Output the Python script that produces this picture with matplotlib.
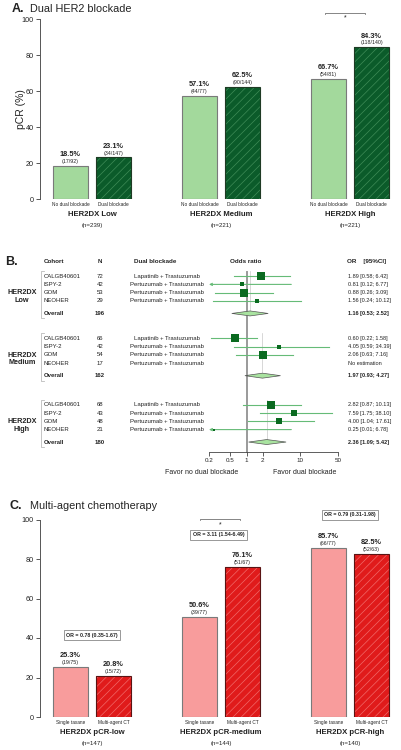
import numpy as np
import matplotlib
matplotlib.use("Agg")
import matplotlib.pyplot as plt
from matplotlib import transforms
from matplotlib.patches import Polygon
from matplotlib.ticker import NullLocator

plt.rcParams['font.family'] = ['Liberation Sans', 'DejaVu Sans']
plt.rcParams['hatch.linewidth'] = 0.5

# ---- panel A: dual HER2 blockade
a_groups = ['HER2DX Low', 'HER2DX Medium', 'HER2DX High']
a_n = [239, 221, 221]
a_arms = ['No dual blockade', 'Dual blockade']
a_pcr_no = [18.5, 57.1, 66.7]
a_pcr_dual = [23.1, 62.5, 84.3]
a_frac_no = ['17/92', '44/77', '54/81']
a_frac_dual = ['34/147', '90/144', '118/140']

# ---- panel B: forest plot
b_groups = ['Low', 'Medium', 'High']
b_cohorts = ['CALGB40601', 'ISPY-2', 'GOM', 'NEOHER']
b_treat = ['Lapatinib + Trastuzumab', 'Pertuzumab + Trastuzumab',
           'Pertuzumab + Trastuzumab', 'Pertuzumab + Trastuzumab']
b_n = [[72, 42, 53, 29], [66, 42, 54, 17], [68, 43, 48, 21]]
b_or = [[1.89, 0.81, 0.88, 1.56], [0.60, 4.05, 2.06, None], [2.82, 7.59, 4.00, 0.25]]
b_lo = [[0.58, 0.12, 0.26, 0.24], [0.22, 0.59, 0.63, None], [0.87, 1.75, 1.04, 0.01]]
b_hi = [[6.42, 6.77, 3.09, 10.12], [1.58, 34.39, 7.16, None], [10.13, 38.10, 17.61, 6.78]]
b_tot_n = [196, 162, 180]
b_tot_or = [1.16, 1.97, 2.36]
b_tot_lo = [0.53, 0.93, 1.09]
b_tot_hi = [2.52, 4.27, 5.42]
b_ticks = [0.2, 0.5, 1, 2, 10, 50]

# ---- panel C: multi-agent chemotherapy
c_groups = ['HER2DX pCR-low', 'HER2DX pCR-medium', 'HER2DX pCR-high']
c_n = [147, 144, 140]
c_arms = ['Single taxane', 'Multi-agent CT']
c_pcr_single = [25.3, 50.6, 85.7]
c_pcr_multi = [20.8, 76.1, 82.5]
c_frac_single = ['19/75', '39/77', '66/77']
c_frac_multi = ['15/72', '51/67', '52/63']
c_or_text = ['OR = 0.78 (0.35-1.67)', 'OR = 3.11 (1.54-6.49)', 'OR = 0.79 (0.31-1.98)']

W, H = 401, 750
TXT = '#222222'
fig = plt.figure(figsize=(W / 100, H / 100), dpi=100)


def fx(px):
    return px / W


def fy(py):
    return 1 - py / H


def bar_panel(ax, v1, v2, f1, f2, arms, groups, ns, c1, c2, hc, ec2, ppu):
    x = np.arange(len(groups))
    off, w = 0.167, 0.271
    ax.bar(x - off, v1, w, color=c1, edgecolor='#7a7a7a', lw=0.8, zorder=2)
    ax.bar(x + off, v2, w, color=c2, edgecolor=hc, lw=0.01, hatch='////', zorder=2)
    ax.bar(x + off, v2, w, fill=False, edgecolor=ec2, lw=0.8, zorder=3)
    for xs, vals, fr in [(x - off, v1, f1), (x + off, v2, f2)]:
        for xi, v, f in zip(xs, vals, fr):
            ax.annotate(f'{v:.1f}%', (xi, v), xytext=(0, 7), textcoords='offset points',
                        ha='center', va='baseline', fontsize=5.3, fontweight='bold', color=TXT)
            ax.annotate(f'({f})', (xi, v), xytext=(0, 1.3), textcoords='offset points',
                        ha='center', va='bottom', fontsize=3.8, color=TXT)
    ax.set_xlim(-0.403, 2.388)
    ax.set_ylim(0, 100)
    for s in ['top', 'right', 'bottom']:
        ax.spines[s].set_visible(False)
    ax.spines['left'].set_color('#555555')
    ax.spines['left'].set_linewidth(0.7)
    ax.set_yticks(range(0, 101, 20))
    ax.tick_params(axis='y', labelsize=5.2, length=3, width=0.7, pad=1.5,
                   colors='#555555', labelcolor=TXT)
    ax.set_xticks(np.concatenate([x - off, x + off]))
    ax.set_xticklabels([arms[0]] * len(x) + [arms[1]] * len(x))
    ax.tick_params(axis='x', length=0, labelsize=3.4, pad=2.5, labelcolor=TXT)
    for xi, g, n in zip(x, groups, ns):
        ax.text(xi, -16 / ppu, g, ha='center', va='center', fontsize=5.6,
                fontweight='bold', color=TXT, clip_on=False)
        ax.text(xi, -27 / ppu, f'(n={n})', ha='center', va='center', fontsize=4.4,
                color=TXT, clip_on=False)
    ax.patch.set_visible(False)


def bracket(ax, x0, x1, y):
    ax.plot([x0, x0, x1, x1], [y - 0.8, y, y, y - 0.8], color='#555555', lw=0.5, clip_on=False)
    ax.text((x0 + x1) / 2, y - 2.8, '*', ha='center', va='center', fontsize=5,
            color=TXT, clip_on=False)


# ================= A =================
fig.text(fx(12), fy(8.5), 'A.', fontsize=9, fontweight='bold', va='center', color=TXT)
fig.text(fx(30), fy(8.5), 'Dual HER2 blockade', fontsize=7.8, va='center', color=TXT)
axA = fig.add_axes([fx(40), fy(199), 360 / W, 180 / H])
bar_panel(axA, a_pcr_no, a_pcr_dual, a_frac_no, a_frac_dual, a_arms, a_groups, a_n,
          '#a3d99c', '#0b5b2a', '#3f8c57', '#1f3a24', 1.8)
bracket(axA, 1.81, 2.12, 103.6)
fig.text(fx(21.5), fy(109), 'pCR (%)', rotation=90, fontsize=7.5, ha='center',
         va='center', color=TXT)

# ================= B =================
axF = fig.add_axes([fx(209), fy(452), 129 / W, 190 / H])
axF.set_xscale('log')
axF.set_xlim(0.2, 50)
axF.set_ylim(21.2, -1.7)
for s in ['top', 'right', 'left']:
    axF.spines[s].set_visible(False)
axF.spines['bottom'].set_color('#444444')
axF.spines['bottom'].set_linewidth(0.6)
axF.set_yticks([])
axF.set_xticks(b_ticks)
axF.set_xticklabels([f'{t:g}' for t in b_ticks])
axF.xaxis.set_minor_locator(NullLocator())
axF.tick_params(axis='x', length=3, width=0.6, labelsize=4.5, pad=1.5,
                colors='#444444', labelcolor=TXT)
axF.patch.set_visible(False)
tr = transforms.blended_transform_factory(fig.transFigure, axF.transData)

fig.text(fx(5), fy(262), 'B.', fontsize=9, fontweight='bold', va='center', color=TXT)
hdr = dict(transform=tr, fontsize=4.5, fontweight='bold', va='center', color=TXT)
axF.text(fx(44), -1.7, 'Cohort', ha='left', **hdr)
axF.text(fx(100), -1.7, 'N', ha='center', **hdr)
axF.text(fx(155), -1.7, 'Dual blockade', ha='center', **hdr)
axF.text(fx(246), -1.7, 'Odds ratio', ha='center', **hdr)
axF.text(fx(347), -1.7, 'OR    [95%CI]', ha='left', **hdr)

axF.plot([1, 1], [-0.5, 21.2], color='#9a9a9a', lw=1.4, zorder=1, clip_on=False)

SQ = '#0a6a20'
CI = '#66bb77'


def fmt(o, lo, hi):
    return f'{o:.2f} [{lo:.2f}; {hi:.2f}]'


bases = [0, 7.5, 15.5]
overall_rows = [4.5, 12, 20]
for g, base in enumerate(bases):
    orow = overall_rows[g]
    axF.text(fx(22), base + 2.5, f'HER2DX\n{b_groups[g]}', transform=tr, ha='center',
             va='center', fontsize=5.2, fontweight='bold', linespacing=1.15, color=TXT)
    # group bracket
    axF.plot([fx(43.5), fx(41), fx(41), fx(43.5)],
             [base - 0.6, base - 0.6, orow + 0.6, orow + 0.6],
             transform=tr, color='#bbbbbb', lw=0.6, clip_on=False)
    for i in range(4):
        r = base + i
        kw = dict(transform=tr, fontsize=4.3, va='center', color=TXT)
        axF.text(fx(44), r, b_cohorts[i], ha='left', **kw)
        axF.text(fx(100), r, str(b_n[g][i]), ha='center', **kw)
        axF.text(fx(167), r, b_treat[i], ha='center', **kw)
        o, lo, hi = b_or[g][i], b_lo[g][i], b_hi[g][i]
        if o is None:
            axF.text(fx(348), r, 'No estimation', ha='left', transform=tr,
                     fontsize=4.0, va='center', color=TXT)
            continue
        axF.text(fx(348), r, fmt(o, lo, hi), ha='left', transform=tr,
                 fontsize=4.0, va='center', color=TXT)
        if lo < 0.2:
            axF.annotate('', xy=(0.2, r), xytext=(hi, r),
                         arrowprops=dict(arrowstyle='->', color=CI, lw=0.8,
                                         shrinkA=0, shrinkB=0, mutation_scale=4))
        else:
            axF.plot([lo, hi], [r, r], color=CI, lw=0.8, zorder=2)
        se = (np.log(hi) - np.log(lo)) / 3.92
        axF.plot([o], [r], marker='s', ms=3.2 / se, color=SQ, mec=SQ, mew=0, zorder=4)
    # overall
    o, lo, hi = b_tot_or[g], b_tot_lo[g], b_tot_hi[g]
    axF.plot([o, o], [base - 0.6, orow], color='#c8c8c8', lw=0.5, zorder=1)
    axF.add_patch(Polygon([(lo, orow), (o, orow - 0.3), (hi, orow), (o, orow + 0.3)],
                          closed=True, fc='#a9e3a0', ec='#555555', lw=0.5, zorder=3))
    kwb = dict(transform=tr, fontsize=4.3, va='center', fontweight='bold', color=TXT)
    axF.text(fx(44), orow, 'Overall', ha='left', **kwb)
    axF.text(fx(100), orow, str(b_tot_n[g]), ha='center', **kwb)
    axF.text(fx(348), orow, fmt(o, lo, hi), ha='left', transform=tr, fontsize=4.0,
             va='center', fontweight='bold', color=TXT)

fig.text(fx(202), fy(472), 'Favor no dual blockade', ha='center', va='center',
         fontsize=5, color=TXT)
fig.text(fx(305), fy(472), 'Favor dual blockade', ha='center', va='center',
         fontsize=5, color=TXT)

# ================= C =================
fig.text(fx(10), fy(506), 'C.', fontsize=9, fontweight='bold', va='center', color=TXT)
fig.text(fx(30), fy(506), 'Multi-agent chemotherapy', fontsize=7.8, va='center', color=TXT)
axC = fig.add_axes([fx(40), fy(717), 360 / W, 197.5 / H])
bar_panel(axC, c_pcr_single, c_pcr_multi, c_frac_single, c_frac_multi, c_arms, c_groups,
          c_n, '#f89c9c', '#e01b1b', '#f06a6a', '#5a1414', 1.975)
bracket(axC, 0.84, 1.15, 100.3)
for xi, yv, t in zip([0, 0.98, 2.0], [41.5, 92.2, 102.3], c_or_text):
    axC.text(xi, yv, t, ha='center', va='center', fontsize=3.8, fontweight='bold',
             color=TXT, clip_on=False,
             bbox=dict(boxstyle='square,pad=0.5', fc='white', ec='#888888', lw=0.6))

fig.savefig('out.png', dpi=100)
